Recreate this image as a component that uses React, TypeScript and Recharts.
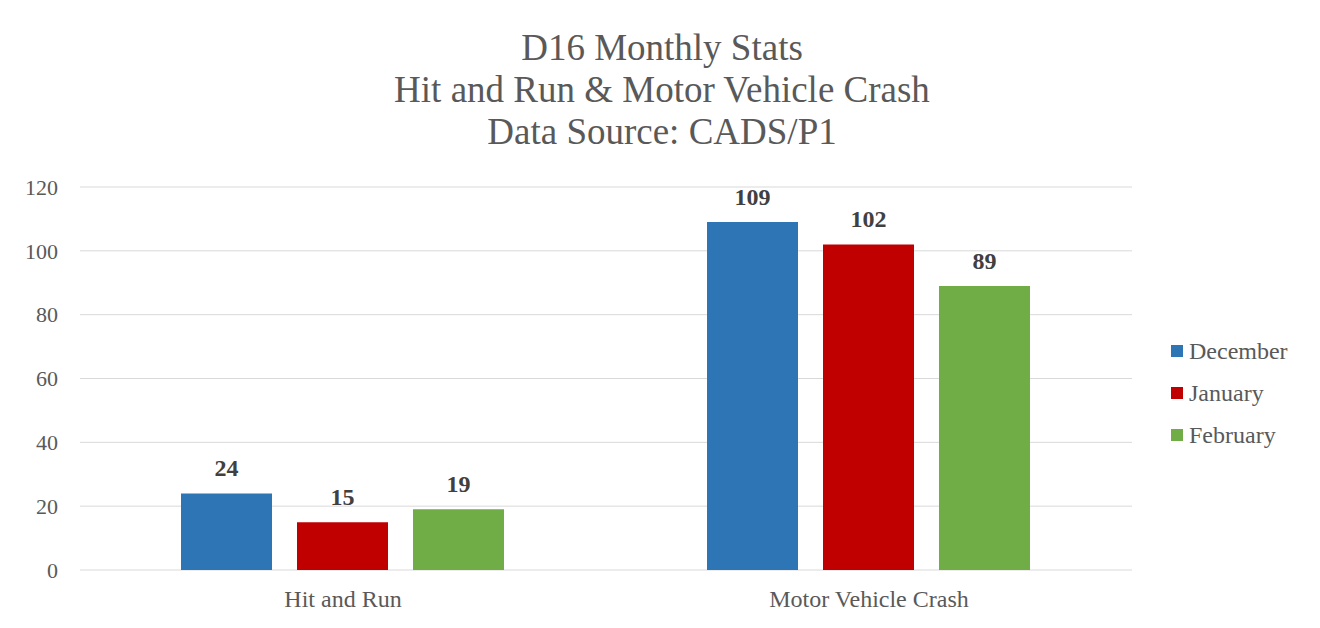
import { BarChart, Bar, XAxis, YAxis, CartesianGrid, Legend, LabelList, Customized } from "recharts";

const categories = ["Hit and Run", "Motor Vehicle Crash"];
const seriesNames = ["December", "January", "February"];
const december = [24, 109];
const january = [15, 102];
const february = [19, 89];
const yTicks = [0, 20, 40, 60, 80, 100, 120];
const titleLines = [
	"D16 Monthly Stats",
	"Hit and Run & Motor Vehicle Crash",
	"Data Source: CADS/P1",
];

const data = categories.map((name, i) => ({
	name,
	December: december[i],
	January: january[i],
	February: february[i],
}));

const textColor = "#595959";
const font = '"Liberation Serif", "Times New Roman", serif';
const labelStyle = { fill: "#404040", fontSize: 24, fontWeight: "bold" };

// eslint-disable-next-line @typescript-eslint/no-explicit-any
function LegendList({ payload }: any) {
	const items = [...(payload || [])].sort(
		(a: any, b: any) => seriesNames.indexOf(a.value) - seriesNames.indexOf(b.value),
	);
	return (
		<ul style={{ listStyle: "none", margin: 0, padding: 0 }}>
			{items.map((p: any) => (
				<li
					key={p.value}
					style={{ display: "flex", alignItems: "center", height: 42 }}
				>
					<span
						style={{
							display: "inline-block",
							width: 12,
							height: 12,
							background: p.color,
							marginRight: 6,
						}}
					/>
					<span style={{ color: textColor, fontSize: 24 }}>{p.value}</span>
				</li>
			))}
		</ul>
	);
}

// outer frame of the chart area (black on three sides, grey at the bottom)
function Frame() {
	return (
		<g>
			<path d="M6,628 L6,5 L1318,5 L1318,628" fill="none" stroke="#000" strokeWidth={2} />
			<path d="M6,626.5 L1318,626.5" fill="none" stroke="#d9d9d9" strokeWidth={1} />
		</g>
	);
}

export default function App() {
	return (
		<div
			style={{
				position: "relative",
				width: 1320,
				height: 628,
				margin: -8,
				overflow: "hidden",
				background: "#fff",
				fontFamily: font,
			}}
		>
			<div
				style={{
					position: "absolute",
					left: 0,
					top: 27,
					width: 1324,
					textAlign: "center",
					fontSize: 37,
					lineHeight: "42px",
					color: textColor,
				}}
			>
				{titleLines.map((t) => (
					<div key={t}>{t}</div>
				))}
			</div>
			<div style={{ position: "absolute", left: 0, top: 0 }}>
				<BarChart
					width={1320}
					height={628}
					data={data}
					margin={{ top: 187, right: 188, bottom: 28, left: 10 }}
					barCategoryGap={101}
					barGap={25}
				>
					<CartesianGrid vertical={false} stroke="#d9d9d9" strokeWidth={1} />
					<XAxis
						dataKey="name"
						axisLine={false}
						tickLine={false}
						tickSize={0}
						tickMargin={20}
						tick={{ fill: textColor, fontSize: 24 }}
					/>
					<YAxis
						width={70}
						domain={[0, 120]}
						ticks={yTicks}
						axisLine={false}
						tickLine={false}
						tickSize={0}
						tickMargin={22}
						tick={{ fill: textColor, fontSize: 22 }}
					/>
					<Legend
						layout="vertical"
						align="center"
						verticalAlign="middle"
						content={<LegendList />}
						wrapperStyle={{
							position: "absolute",
							left: 1171,
							top: 330,
							width: 140,
						}}
					/>
					<Bar dataKey="December" fill="#2E75B6" isAnimationActive={false}>
						<LabelList dataKey="December" position="top" offset={17} style={labelStyle} />
					</Bar>
					<Bar dataKey="January" fill="#C00000" isAnimationActive={false}>
						<LabelList dataKey="January" position="top" offset={17} style={labelStyle} />
					</Bar>
					<Bar dataKey="February" fill="#70AD47" isAnimationActive={false}>
						<LabelList dataKey="February" position="top" offset={17} style={labelStyle} />
					</Bar>
					<Customized component={Frame} />
				</BarChart>
			</div>
		</div>
	);
}
